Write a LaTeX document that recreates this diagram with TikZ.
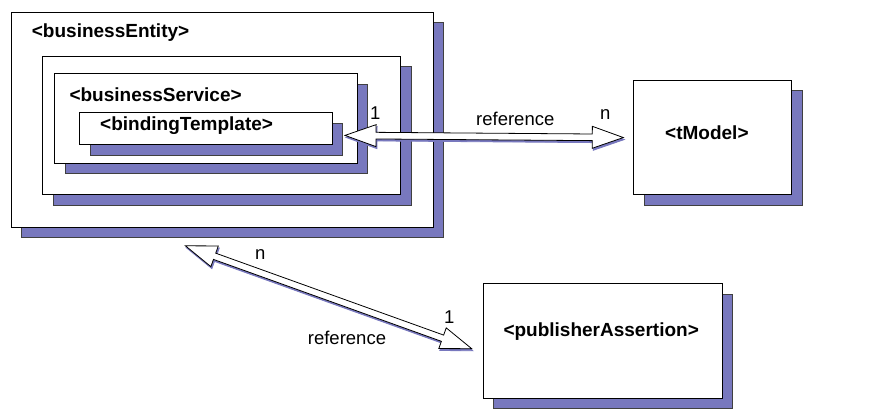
\documentclass[tikz,border=0pt]{standalone}
\usepackage{fontspec}
\setmainfont{Liberation Sans}
\usetikzlibrary{calc,shadows}
\definecolor{shblue}{RGB}{120,120,190}
\tikzset{
  box/.style={draw=black, fill=white, line width=0.8pt, inner sep=0pt, anchor=north west,
    drop shadow={shadow xshift=10.5pt, shadow yshift=-10.5pt, fill=shblue, draw=black!75, line width=0.8pt, opacity=1}},
  boxtext/.style={font=\fontsize{19}{22}\selectfont\bfseries, inner sep=0pt, anchor=base west},
  lbl/.style={font=\fontsize{18.5}{22}\selectfont, inner sep=0pt, anchor=base west},
  dblarrow/.style={to path={(\tikztostart)
      -- ($(\tikztostart)!32.9pt!19.5:(\tikztotarget)$)
      -- ($(\tikztostart)!31.2pt!6.1:(\tikztotarget)$)
      -- ($(\tikztotarget)!31.2pt!-6.1:(\tikztostart)$)
      -- ($(\tikztotarget)!32.9pt!-19.5:(\tikztostart)$)
      -- (\tikztotarget)
      -- ($(\tikztotarget)!32.9pt!19.5:(\tikztostart)$)
      -- ($(\tikztotarget)!31.2pt!6.1:(\tikztostart)$)
      -- ($(\tikztostart)!31.2pt!-6.1:(\tikztotarget)$)
      -- ($(\tikztostart)!32.9pt!-19.5:(\tikztotarget)$)
      -- cycle}},
  arrowbody/.style={draw=black, fill=white, line width=0.8pt, line join=miter},
  arrowshade/.style={draw=shblue, fill=shblue, line width=0.8pt, transform canvas={shift={(1pt,-2pt)}}},
}
\begin{document}
\begin{tikzpicture}[x=1pt, y=-1pt]
\useasboundingbox (0,0) rectangle (874,409);
% boxes
\node[box, minimum width=422pt, minimum height=215pt] (be) at (10.7,11.7) {};
\node[box, minimum width=358pt, minimum height=138pt] (bso) at (42,56) {};
\node[box, minimum width=302.4pt, minimum height=89.4pt] (bs) at (54.3,73.3) {};
\node[box, minimum width=252.4pt, minimum height=32pt] (bt) at (79.3,112) {};
\node[box, minimum width=157.7pt, minimum height=114.3pt] (tm) at (633.3,80) {};
\node[box, minimum width=239pt, minimum height=114.4pt] (pa) at (482.7,283.3) {};
% box texts
\node[boxtext] (tbe) at (31.7,37.7) {<businessEntity>};
\node[boxtext] (tbs) at (69.3,101.7) {<businessService>};
\node[boxtext] (tbt) at (100,130.7) {<bindingTemplate>};
\node[boxtext] (ttm) at (665,139) {<tModel>};
\node[boxtext] (tpa) at (503.3,336.7) {<publisherAssertion>};
% arrow end points
\coordinate (h1) at ([shift={(12.5pt,-7pt)}]bt.east);
\coordinate (h2) at ([xshift=-10pt]tm.west);
\coordinate (d1) at ([shift={(-36.7pt,-18.3pt)}]be.south);
\coordinate (d2) at ([shift={(-11pt,-7.8pt)}]pa.west);
% arrows
\draw[arrowshade] (h1) to[dblarrow] (h2);
\draw[arrowbody] (h1) to[dblarrow] (h2);
\draw[arrowshade] (d1) to[dblarrow] (d2);
\draw[arrowbody] (d1) to[dblarrow] (d2);
% labels
\node[lbl] (l1) at (370,120) {1};
\node[lbl] (lref1) at (476,125.7) {reference};
\node[lbl] (ln1) at (600,119.3) {n};
\node[lbl] (ln2) at (255,259.3) {n};
\node[lbl] (l2) at (444,323.3) {1};
\node[lbl] (lref2) at (307.7,344.3) {reference};
\end{tikzpicture}
\end{document}
